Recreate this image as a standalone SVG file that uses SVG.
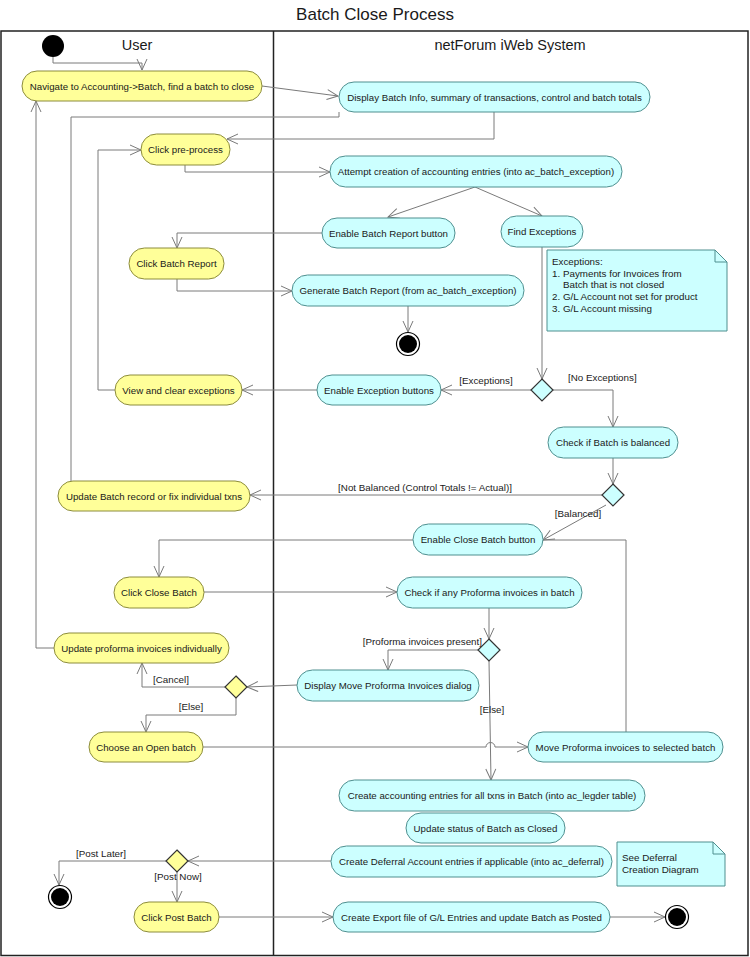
<svg xmlns="http://www.w3.org/2000/svg" width="750" height="957" viewBox="0 0 750 957">
<style>
text{font-family:"Liberation Sans",Arial,sans-serif;fill:#1a1a1a}
.t{font-size:9.7px;text-anchor:middle}
.lbl{font-size:9.8px}
.y{fill:#ffff99;stroke:#8c8c3c;stroke-width:1}
.c{fill:#ccffff;stroke:#4f8f8f;stroke-width:1}
.dy{fill:#ffff99;stroke:#333;stroke-width:1.2}
.dc{fill:#ccffff;stroke:#333;stroke-width:1.2}
.note{fill:#ccffff;stroke:#4f8f8f;stroke-width:1}
#conn path{fill:none;stroke:#7a7a7a;stroke-width:1}
#conn path.a{marker-end:url(#arr)}
</style>
<defs>
<marker id="arr" markerWidth="14" markerHeight="14" refX="12" refY="7" orient="auto" markerUnits="userSpaceOnUse">
<path d="M1,2 L12,7 L1,12" fill="none" stroke="#7a7a7a" stroke-width="1"/>
</marker>
</defs>
<rect width="750" height="957" fill="#fff"/>
<text x="375" y="20" style="font-size:17px;text-anchor:middle">Batch Close Process</text>
<g id="lanes">
<rect x="1" y="31" width="747" height="924.5" fill="none" stroke="#222" stroke-width="1.5"/>
<line x1="273.5" y1="31" x2="273.5" y2="956" stroke="#222" stroke-width="1.5"/>
<text x="137" y="50" style="font-size:14.5px;text-anchor:middle">User</text>
<text x="510" y="50" style="font-size:14.5px;text-anchor:middle">netForum iWeb System</text>
</g>
<g id="conn">
<path class="a" d="M53,57 V63 H142 V70"/>
<path class="a" d="M262,86 L338,96"/>
<path d="M71,481 V117 H339 V112"/>
<path class="a" d="M494,112 V139 H227"/>
<path class="a" d="M185,165 V172 H330"/>
<path class="a" d="M475,187 L388,217"/>
<path class="a" d="M475,187 L542,216"/>
<path class="a" d="M322,233 H177 V248"/>
<path class="a" d="M177,279 V291 H292"/>
<path class="a" d="M408,306 V332"/>
<path class="a" d="M542,247 V379"/>
<path class="a" d="M531,390 H441"/>
<path class="a" d="M553,390 H613 V427"/>
<path class="a" d="M317,390 H242"/>
<path class="a" d="M115,390 H98 V150 H141"/>
<path class="a" d="M613,458 V484"/>
<path class="a" d="M602,495 H250"/>
<path class="a" d="M606,505 L543,540"/>
<path d="M626,732 V540 H543"/>
<path class="a" d="M413,540 H159 V577"/>
<path class="a" d="M204,592 H397"/>
<path class="a" d="M489,608 V639"/>
<path class="a" d="M478,650 H388 V670"/>
<path class="a" d="M489,661 L491,780"/>
<path class="a" d="M297,685 L247,687"/>
<path class="a" d="M225,687 H142 V663"/>
<path class="a" d="M54,648 H36 V101"/>
<path class="a" d="M236,698 V715 H146 V732"/>
<path class="a" d="M203,747 H486 A4.5,4.5 0 0 1 495,747 H528"/>
<path class="a" d="M331,861 H188"/>
<path class="a" d="M166,861 H59 V885"/>
<path class="a" d="M177,872 V902"/>
<path class="a" d="M219,917 H333"/>
<path class="a" d="M610,917 H665"/>
</g>
<g id="labels" class="lbl">
<text x="486" y="384" text-anchor="middle">[Exceptions]</text>
<text x="568" y="381">[No Exceptions]</text>
<text x="425" y="491" text-anchor="middle">[Not Balanced (Control Totals != Actual)]</text>
<text x="578" y="517" text-anchor="middle">[Balanced]</text>
<text x="482" y="645" text-anchor="end">[Proforma invoices present]</text>
<text x="492" y="713" text-anchor="middle">[Else]</text>
<text x="171" y="683" text-anchor="middle">[Cancel]</text>
<text x="191" y="710" text-anchor="middle">[Else]</text>
<text x="101" y="857" text-anchor="middle">[Post Later]</text>
<text x="178" y="880" text-anchor="middle">[Post Now]</text>
</g>
<g id="start"><circle cx="53" cy="46" r="11" fill="#000"/></g>
<g id="end1"><circle cx="408" cy="344" r="11.5" fill="#fff" stroke="#000" stroke-width="1.2"/><circle cx="408" cy="344" r="9" fill="#000"/></g>
<g id="end2"><circle cx="60" cy="897" r="11.5" fill="#fff" stroke="#000" stroke-width="1.2"/><circle cx="60" cy="897" r="9" fill="#000"/></g>
<g id="end3"><circle cx="677" cy="917" r="11.5" fill="#fff" stroke="#000" stroke-width="1.2"/><circle cx="677" cy="917" r="9" fill="#000"/></g>
<g id="n1"><rect class="y" x="22" y="71" width="240" height="30" rx="15"/><text class="t" x="142" y="89.5">Navigate to Accounting-&gt;Batch, find a batch to close</text></g>
<g id="n2"><rect class="c" x="339" y="82" width="311" height="30" rx="15"/><text class="t" x="494.5" y="100.5">Display Batch Info, summary of transactions, control and batch totals</text></g>
<g id="n3"><rect class="y" x="141" y="134" width="89" height="31" rx="15.5"/><text class="t" x="185.5" y="153">Click pre-process</text></g>
<g id="n4"><rect class="c" x="330" y="156" width="292" height="31" rx="15.5"/><text class="t" x="476" y="175">Attempt creation of accounting entries (into ac_batch_exception)</text></g>
<g id="n5"><rect class="c" x="322" y="218" width="133" height="30" rx="15"/><text class="t" x="388.5" y="236.5">Enable Batch Report button</text></g>
<g id="n6"><rect class="c" x="501" y="216" width="82" height="31" rx="15.5"/><text class="t" x="542" y="235">Find Exceptions</text></g>
<g id="n7"><rect class="y" x="129" y="248" width="95" height="31" rx="15.5"/><text class="t" x="176.5" y="267">Click Batch Report</text></g>
<g id="n8"><rect class="c" x="292" y="275" width="232" height="31" rx="15.5"/><text class="t" x="408" y="294">Generate Batch Report (from ac_batch_exception)</text></g>
<g id="note1"><path class="note" d="M547,250 H715 L727,262 V331 H547 Z"/><path d="M715,250 V262 H727" fill="none" stroke="#4f8f8f"/>
<text class="lbl" x="552" y="264.5">Exceptions:</text>
<text class="lbl" x="552" y="276.5">1. Payments for Invoices from</text>
<text class="lbl" x="563" y="288">Batch that is not closed</text>
<text class="lbl" x="552" y="299.5">2. G/L Account not set for product</text>
<text class="lbl" x="552" y="311.5">3. G/L Account missing</text></g>
<g id="d1"><path class="dc" d="M542,379 L553,390 L542,401 L531,390 Z"/></g>
<g id="n9"><rect class="c" x="317" y="375" width="124" height="30" rx="15"/><text class="t" x="379" y="393.5">Enable Exception buttons</text></g>
<g id="n10"><rect class="y" x="115" y="375" width="127" height="30" rx="15"/><text class="t" x="178.5" y="393.5">View and clear exceptions</text></g>
<g id="n11"><rect class="c" x="548" y="427" width="130" height="31" rx="15.5"/><text class="t" x="613" y="446">Check if Batch is balanced</text></g>
<g id="d2"><path class="dc" d="M613,484 L624,495 L613,506 L602,495 Z"/></g>
<g id="n12"><rect class="y" x="58" y="481" width="192" height="30" rx="15"/><text class="t" x="154" y="499.5">Update Batch record or fix individual txns</text></g>
<g id="n13"><rect class="c" x="413" y="524" width="130" height="31" rx="15.5"/><text class="t" x="478" y="543">Enable Close Batch button</text></g>
<g id="n14"><rect class="y" x="114" y="577" width="90" height="31" rx="15.5"/><text class="t" x="159" y="596">Click Close Batch</text></g>
<g id="n15"><rect class="c" x="397" y="577" width="185" height="31" rx="15.5"/><text class="t" x="489.5" y="596">Check if any Proforma invoices in batch</text></g>
<g id="d3"><path class="dc" d="M489,639 L500,650 L489,661 L478,650 Z"/></g>
<g id="n16"><rect class="y" x="54" y="633" width="175" height="30" rx="15"/><text class="t" x="141.5" y="651.5">Update proforma invoices individually</text></g>
<g id="n17"><rect class="c" x="297" y="670" width="182" height="31" rx="15.5"/><text class="t" x="388" y="689">Display Move Proforma Invoices dialog</text></g>
<g id="d4"><path class="dy" d="M236,676 L247,687 L236,698 L225,687 Z"/></g>
<g id="n18"><rect class="y" x="89" y="732" width="114" height="30" rx="15"/><text class="t" x="146" y="750.5">Choose an Open batch</text></g>
<g id="n19"><rect class="c" x="528" y="732" width="195" height="30" rx="15"/><text class="t" x="625.5" y="750.5">Move Proforma invoices to selected batch</text></g>
<g id="n20"><rect class="c" x="339" y="780" width="306" height="31" rx="15.5"/><text class="t" x="492" y="799">Create accounting entries for all txns in Batch (into ac_legder table)</text></g>
<g id="n21"><rect class="c" x="406" y="813" width="159" height="30" rx="15"/><text class="t" x="485.5" y="831.5">Update status of Batch as Closed</text></g>
<g id="n22"><rect class="c" x="331" y="846" width="281" height="31" rx="15.5"/><text class="t" x="471.5" y="865">Create Deferral Account entries if applicable (into ac_deferral)</text></g>
<g id="note2"><path class="note" d="M617,842 H713 L725,854 V886 H617 Z"/><path d="M713,842 V854 H725" fill="none" stroke="#4f8f8f"/>
<text class="lbl" x="622" y="860.5">See Deferral</text>
<text class="lbl" x="622" y="872.5">Creation Diagram</text></g>
<g id="d5"><path class="dy" d="M177,850 L188,861 L177,872 L166,861 Z"/></g>
<g id="n23"><rect class="y" x="134" y="902" width="85" height="30" rx="15"/><text class="t" x="176.5" y="920.5">Click Post Batch</text></g>
<g id="n24"><rect class="c" x="333" y="902" width="277" height="30" rx="15"/><text class="t" x="471.5" y="920.5">Create Export file of G/L Entries and update Batch as Posted</text></g>
</svg>
